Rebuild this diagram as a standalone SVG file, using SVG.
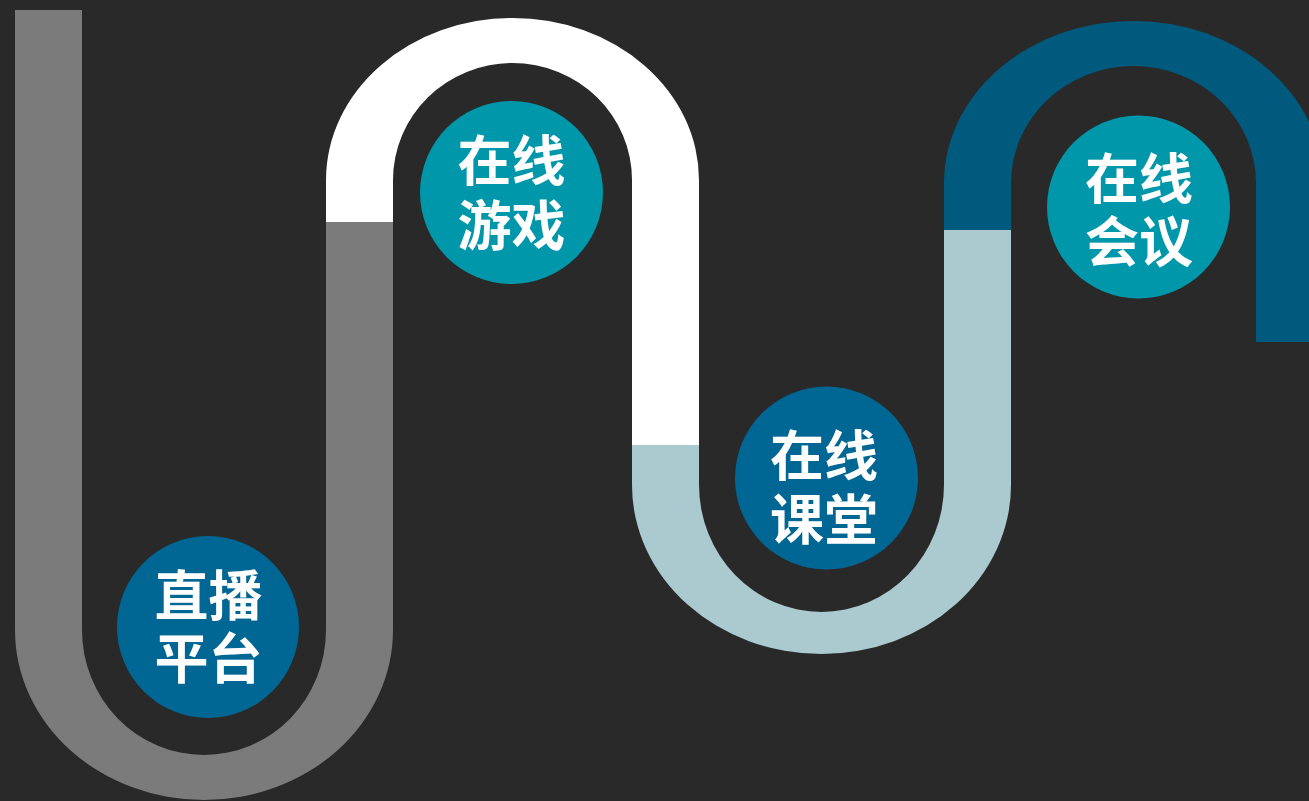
<svg xmlns="http://www.w3.org/2000/svg" width="1309" height="801" viewBox="0 0 1309 801">
<style>
.lbl{font-family:"Noto Sans CJK SC","Noto Sans",sans-serif;font-weight:700;font-size:54px;fill:#ffffff;text-anchor:middle;dominant-baseline:central}
.c1{fill:#006795}
.c2{fill:#0097aa}
</style>
<rect x="0" y="0" width="1309" height="801" fill="#292929"/>
<g id="connectors">
<path id="track-gray" fill="#7b7b7b" d="M15,10 L15,630 A189,170 0 0 0 393,630 L393,222 L326,222 L326,630 A122,125 0 0 1 82,630 L82,10 Z"/>
<path id="track-white" fill="#ffffff" d="M326,222 L326,180 A186.5,162 0 0 1 699,180 L699,445 L632,445 L632,180 A119.5,117 0 0 0 393,180 L393,222 Z"/>
<path id="track-lightblue" fill="#abcad0" d="M632,445 L632,485 A189.5,169 0 0 0 1011,485 L1011,230 L944,230 L944,485 A122.5,127 0 0 1 699,485 L699,445 Z"/>
<path id="track-darkblue" fill="#005a7e" d="M944,230 L944,183 A189.5,162 0 0 1 1323,183 L1323,342 L1256,342 L1256,183 A122.5,117 0 0 0 1011,183 L1011,230 Z"/>
</g>
<g id="node-live">
<circle class="c1" cx="208" cy="627" r="91"/>
<text class="lbl" x="208.5" y="592">直播</text>
<text class="lbl" x="208.5" y="655">平台</text>
</g>
<g id="node-game">
<circle class="c2" cx="511.5" cy="192.5" r="91.5"/>
<text class="lbl" x="511.5" y="157.5">在线</text>
<text class="lbl" x="511.5" y="222">游戏</text>
</g>
<g id="node-class">
<circle class="c1" cx="826.5" cy="478" r="91.5"/>
<text class="lbl" x="824" y="452">在线</text>
<text class="lbl" x="824" y="516">课堂</text>
</g>
<g id="node-meeting">
<circle class="c2" cx="1138.5" cy="207" r="91.5"/>
<text class="lbl" x="1139" y="175">在线</text>
<text class="lbl" x="1139" y="238">会议</text>
</g>
</svg>
